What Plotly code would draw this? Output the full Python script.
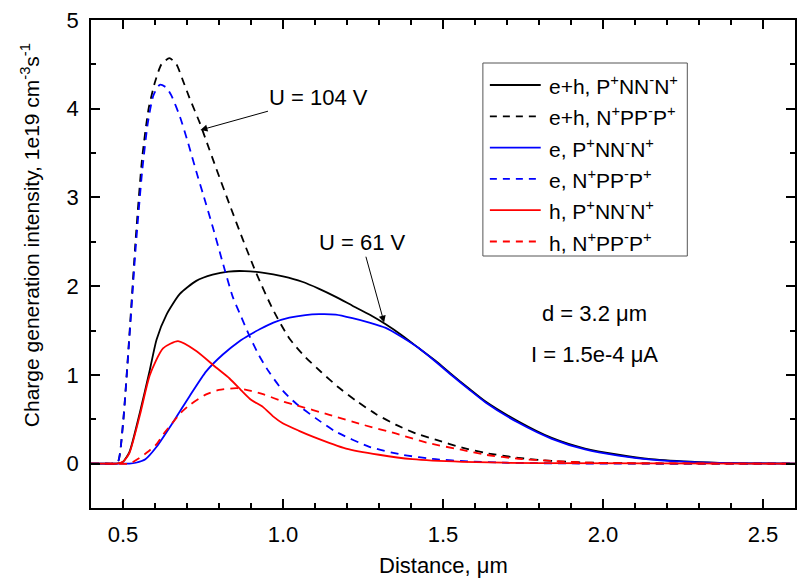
import plotly.graph_objects as go

# Charge generation intensity profiles (units of 1e19 cm^-3 s^-1) vs distance (um)

# e+h, P+NN-N+  (U = 61 V)
x_eh_pnn = [0.40, 0.45, 0.48, 0.50, 0.52, 0.553, 0.584, 0.605, 0.636, 0.677, 0.729, 0.78,
            0.83, 0.88, 0.94, 1.00, 1.06, 1.113, 1.165, 1.217, 1.27, 1.321, 1.37, 1.425,
            1.48, 1.529, 1.58, 1.633, 1.736, 1.84, 1.944, 2.048, 2.15, 2.3, 2.45, 2.6]
y_eh_pnn = [0.0, 0.0, 0.0, 0.02, 0.13, 0.58, 1.06, 1.40, 1.68, 1.91, 2.06, 2.13,
            2.165, 2.17, 2.15, 2.11, 2.05, 1.97, 1.88, 1.78, 1.68, 1.57, 1.45, 1.30,
            1.15, 1.00, 0.85, 0.70, 0.475, 0.29, 0.17, 0.10, 0.05, 0.018, 0.004, 0.0]

# e+h, N+PP-P+  (U = 104 V)
x_eh_npp = [0.40, 0.44, 0.47, 0.485, 0.50, 0.52, 0.54, 0.56, 0.58, 0.60, 0.62, 0.645, 0.667,
            0.687, 0.708, 0.74, 0.76, 0.792, 0.833, 0.874, 0.916, 0.968, 1.02, 1.07, 1.12,
            1.17, 1.228, 1.29, 1.352, 1.415, 1.477, 1.56, 1.633, 1.736, 1.84, 1.95, 2.1,
            2.3, 2.6]
y_eh_npp = [0.0, 0.0, 0.0, 0.03, 0.45, 1.45, 2.55, 3.45, 4.0, 4.3, 4.5, 4.57, 4.5,
            4.32, 4.12, 3.84, 3.64, 3.32, 2.92, 2.53, 2.15, 1.74, 1.41, 1.20, 1.03,
            0.87, 0.71, 0.56, 0.44, 0.34, 0.27, 0.18, 0.12, 0.065, 0.03, 0.012, 0.003,
            0.0, 0.0]

# e, P+NN-N+
x_e_pnn = [0.40, 0.48, 0.52, 0.54, 0.57, 0.605, 0.657, 0.708, 0.76, 0.812, 0.864, 0.895,
           0.93, 0.97, 1.02, 1.07, 1.113, 1.165, 1.217, 1.27, 1.321, 1.37, 1.425, 1.48,
           1.529, 1.58, 1.633, 1.736, 1.84, 1.944, 2.048, 2.15, 2.3, 2.45, 2.6]
y_e_pnn = [0.0, 0.0, 0.0, 0.01, 0.05, 0.19, 0.47, 0.76, 1.04, 1.23, 1.38, 1.45,
           1.52, 1.59, 1.645, 1.675, 1.685, 1.68, 1.64, 1.59, 1.53, 1.43, 1.30, 1.14,
           0.99, 0.84, 0.69, 0.46, 0.28, 0.16, 0.09, 0.045, 0.015, 0.004, 0.0]

# e, N+PP-P+
x_e_npp = [0.40, 0.44, 0.47, 0.485, 0.50, 0.52, 0.54, 0.56, 0.578, 0.595, 0.615, 0.635,
           0.651, 0.677, 0.703, 0.73, 0.75, 0.781, 0.812, 0.843, 0.87, 0.895, 0.925, 0.955,
           1.0, 1.04, 1.103, 1.165, 1.27, 1.373, 1.477, 1.58, 1.7, 1.9, 2.6]
y_e_npp = [0.0, 0.0, 0.0, 0.03, 0.45, 1.42, 2.45, 3.3, 3.85, 4.15, 4.27, 4.24,
           4.15, 3.92, 3.62, 3.28, 3.04, 2.66, 2.26, 1.88, 1.65, 1.44, 1.22, 1.04,
           0.82, 0.68, 0.51, 0.36, 0.19, 0.10, 0.05, 0.025, 0.01, 0.002, 0.0]

# h, P+NN-N+
x_h_pnn = [0.40, 0.45, 0.48, 0.50, 0.52, 0.553, 0.584, 0.625, 0.672, 0.729, 0.792, 0.833,
           0.874, 0.90, 0.937, 0.97, 0.999, 1.05, 1.093, 1.197, 1.30, 1.404, 1.56, 1.8, 2.6]
y_h_pnn = [0.0, 0.0, 0.0, 0.02, 0.12, 0.55, 1.0, 1.30, 1.38, 1.27, 1.08, 0.96,
           0.81, 0.72, 0.64, 0.53, 0.455, 0.37, 0.305, 0.17, 0.10, 0.05, 0.02, 0.005, 0.0]

# h, N+PP-P+
x_h_npp = [0.40, 0.48, 0.52, 0.55, 0.58, 0.605, 0.63, 0.657, 0.68, 0.708, 0.76, 0.80,
           0.857, 0.90, 0.94, 1.0, 1.04, 1.145, 1.248, 1.352, 1.456, 1.56, 1.633, 1.736,
           1.84, 1.95, 2.1, 2.6]
y_h_npp = [0.0, 0.0, 0.0, 0.06, 0.14, 0.22, 0.35, 0.47, 0.57, 0.66, 0.78, 0.83,
           0.85, 0.82, 0.78, 0.70, 0.66, 0.55, 0.44, 0.34, 0.23, 0.155, 0.10, 0.055,
           0.03, 0.012, 0.004, 0.0]

series_names = [
    "e+h, P<sup>+</sup>NN<sup>-</sup>N<sup>+</sup>",
    "e+h, N<sup>+</sup>PP<sup>-</sup>P<sup>+</sup>",
    "e, P<sup>+</sup>NN<sup>-</sup>N<sup>+</sup>",
    "e, N<sup>+</sup>PP<sup>-</sup>P<sup>+</sup>",
    "h, P<sup>+</sup>NN<sup>-</sup>N<sup>+</sup>",
    "h, N<sup>+</sup>PP<sup>-</sup>P<sup>+</sup>",
]
series_x = [x_eh_pnn, x_eh_npp, x_e_pnn, x_e_npp, x_h_pnn, x_h_npp]
series_y = [y_eh_pnn, y_eh_npp, y_e_pnn, y_e_npp, y_h_pnn, y_h_npp]
series_color = ["#000000", "#000000", "#0000FF", "#0000FF", "#FF0000", "#FF0000"]
series_dash = ["solid", "8px,6px", "solid", "8px,6px", "solid", "8px,6px"]

FONT = "Liberation Sans, Arial, sans-serif"
FS = 22
LW = 1.8

fig = go.Figure()
for xs, ys, name, col, dash in zip(series_x, series_y, series_names, series_color, series_dash):
    fig.add_trace(go.Scatter(
        x=xs, y=ys, mode="lines", name=name, showlegend=False,
        line=dict(color=col, width=LW, dash=dash, shape="spline", smoothing=0.6),
    ))

# Legend box drawn by hand in paper coordinates
L, R, T, B = 91, 797, 20, 508          # plot area in pixels
W, H = R - L, B - T
def px(xp):
    return (xp - L) / W
def py(yp):
    return (B - yp) / H

shapes = [dict(type="rect", xref="paper", yref="paper",
               x0=px(484), x1=px(689), y0=py(256), y1=py(63),
               line=dict(color="#555555", width=1), fillcolor="rgba(0,0,0,0)")]
annotations = []
for i, (name, col, dash) in enumerate(zip(series_names, series_color, series_dash)):
    yrow = 85 + 31.3 * i
    shapes.append(dict(type="line", xref="paper", yref="paper",
                       x0=px(491), x1=px(542), y0=py(yrow), y1=py(yrow),
                       line=dict(color=col, width=LW, dash=dash.replace("8px,6px", "7px,6px"))))
    annotations.append(dict(xref="paper", yref="paper", x=px(548), y=py(yrow),
                            xanchor="left", yanchor="middle", text=name, showarrow=False,
                            font=dict(family=FONT, size=21, color="black")))

# Voltage labels with arrows
annotations.append(dict(x=0.742, y=3.76, ax=1.11, ay=4.13, axref="x", ayref="y",
                        xref="x", yref="y", text="U = 104 V", showarrow=True,
                        arrowhead=2, arrowsize=1.4, arrowwidth=1, arrowcolor="black",
                        font=dict(family=FONT, size=FS, color="black")))
annotations.append(dict(x=1.316, y=1.59, ax=1.247, ay=2.49, axref="x", ayref="y",
                        xref="x", yref="y", text="U = 61 V", showarrow=True,
                        arrowhead=2, arrowsize=1.4, arrowwidth=1, arrowcolor="black",
                        font=dict(family=FONT, size=FS, color="black")))

# Sample parameters
annotations.append(dict(x=1.973, y=1.697, xref="x", yref="y", text="d = 3.2 \u03bcm",
                        showarrow=False, font=dict(family=FONT, size=FS, color="black")))
annotations.append(dict(x=1.973, y=1.233, xref="x", yref="y", text="I = 1.5e-4 \u03bcA",
                        showarrow=False, font=dict(family=FONT, size=FS, color="black")))

# Axis titles
annotations.append(dict(xref="paper", yref="paper", x=px(444), y=py(565),
                        xanchor="center", yanchor="middle",
                        text="Distance, \u03bcm", showarrow=False,
                        font=dict(family=FONT, size=FS, color="black")))
annotations.append(dict(xref="paper", yref="paper", x=px(30), y=py(235), textangle=-90,
                        xanchor="center", yanchor="middle",
                        text="Charge generation intensity, 1e19 cm<sup>-3</sup>s<sup>-1</sup>",
                        showarrow=False, font=dict(family=FONT, size=21, color="black")))

axis_common = dict(
    showgrid=False, zeroline=False, showline=True, linecolor="black", linewidth=1.5,
    mirror="ticks", ticks="inside", ticklen=9, tickwidth=1.5, tickcolor="black",
    tickfont=dict(family=FONT, size=FS, color="black"),
)

fig.update_layout(
    width=801, height=581,
    margin=dict(l=L, r=801 - R, t=T, b=581 - B),
    paper_bgcolor="white", plot_bgcolor="white",
    shapes=shapes, annotations=annotations,
    xaxis=dict(range=[0.4, 2.6], tick0=0.5, dtick=0.5, tickformat=".1f",
               minor=dict(dtick=0.1, ticks="inside", ticklen=5, tickwidth=1.5, tickcolor="black"),
               ticklabelstandoff=6, **axis_common),
    yaxis=dict(range=[-0.5, 5], tick0=0, dtick=1,
               minor=dict(dtick=0.5, ticks="inside", ticklen=5, tickwidth=1.5, tickcolor="black"),
               ticklabelstandoff=6, **axis_common),
)

fig.write_html("out.html")
